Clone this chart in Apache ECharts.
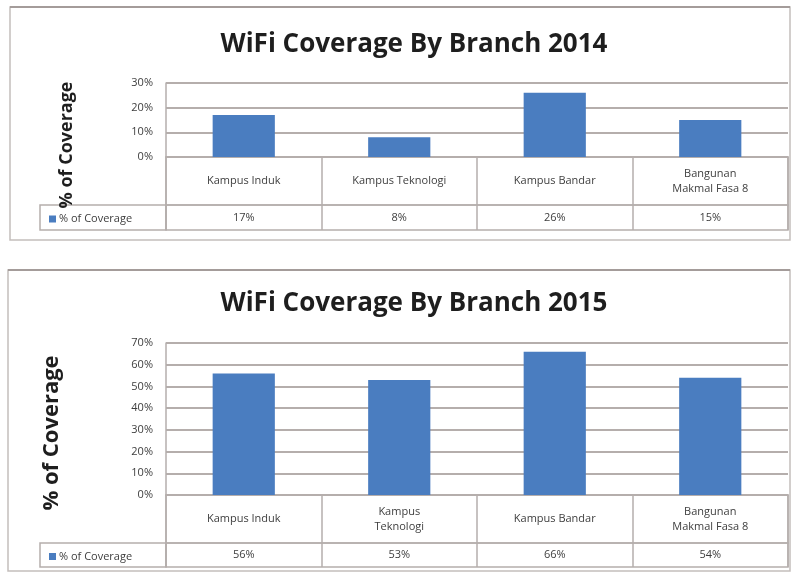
<!DOCTYPE html>
<html>
<head>
<meta charset="utf-8">
<script src="https://cdn.jsdelivr.net/npm/echarts@6/dist/echarts.min.js"></script>
<style>
  html, body { margin: 0; padding: 0; background: #fff; }
  #main { width: 794px; height: 574px; }
</style>
</head>
<body>
<div id="main"></div>
<script>
// data
var categories2014 = ['Kampus Induk', 'Kampus Teknologi', 'Kampus Bandar', 'Bangunan\nMakmal Fasa 8'];
var categories2015 = ['Kampus Induk', 'Kampus\nTeknologi', 'Kampus Bandar', 'Bangunan\nMakmal Fasa 8'];
var coverage2014 = [17, 8, 26, 15];
var coverage2015 = [56, 53, 66, 54];
var yMax2014 = 30;
var yMax2015 = 70;
var seriesName = '% of Coverage';

var BLUE = '#4a7dc0';
var LINE = '#b5aeac';
var TXT = '#3e3e3e';
var FONT = 'Open Sans';

var grids = [], xAxes = [], yAxes = [], series = [], legends = [];

// one chart = plot grid + category row + value row + legend cell
function addChart(lay, cats, vals, yMax) {
  var g = grids.length;
  var catTop = lay.top + lay.plotH;
  var rowTop = catTop + lay.catH;
  var border = { show: true, borderColor: LINE, borderWidth: 1.5, backgroundColor: 'transparent' };

  grids.push({ left: 166, right: 6, top: lay.top, height: lay.plotH });
  grids.push(Object.assign({ left: 166, right: 6, top: catTop, height: lay.catH }, border));
  grids.push(Object.assign({ left: 166, right: 6, top: rowTop, height: lay.rowH }, border));
  grids.push(Object.assign({ left: 40, width: 126, top: rowTop, height: lay.rowH }, border));

  xAxes.push({
    gridIndex: g, type: 'category', data: cats,
    axisLine: { lineStyle: { color: LINE, width: 1.5 } },
    axisTick: { show: false }, axisLabel: { show: false }
  });
  yAxes.push({
    gridIndex: g, type: 'value', min: 0, max: yMax, interval: 10,
    axisLine: { show: true, lineStyle: { color: LINE, width: 1.5 } },
    axisTick: { show: false },
    axisLabel: { formatter: '{value}%', margin: 13, fontSize: 11, fontFamily: FONT, color: TXT },
    splitLine: { lineStyle: { color: LINE, width: 1.8 } }
  });

  xAxes.push({
    gridIndex: g + 1, type: 'category', data: cats,
    axisLine: { show: false }, axisTick: { show: false },
    splitLine: { show: true, interval: 0, lineStyle: { color: LINE, width: 1.5 } },
    axisLabel: {
      inside: true, interval: 0, verticalAlign: 'middle', margin: lay.catH / 2,
      fontSize: 11, lineHeight: 15, fontFamily: FONT, color: TXT
    }
  });
  yAxes.push({ gridIndex: g + 1, show: false });

  xAxes.push({
    gridIndex: g + 2, type: 'category', data: cats,
    axisLine: { show: false }, axisTick: { show: false },
    splitLine: { show: true, interval: 0, lineStyle: { color: LINE, width: 1.5 } },
    axisLabel: {
      inside: true, interval: 0, verticalAlign: 'middle', margin: lay.rowH / 2,
      fontSize: 11, fontFamily: FONT, color: TXT,
      formatter: function (v, i) { return vals[i] + '%'; }
    }
  });
  yAxes.push({ gridIndex: g + 2, show: false });

  xAxes.push({ gridIndex: g + 3, show: false });
  yAxes.push({ gridIndex: g + 3, show: false });

  series.push({
    type: 'bar', name: seriesName, xAxisIndex: g, yAxisIndex: g,
    data: vals, barWidth: '40%', itemStyle: { color: BLUE }
  });

  legends.push({
    data: [seriesName], left: 44, top: rowTop + lay.rowH / 2 - 9,
    icon: 'rect', itemWidth: 7, itemHeight: 7, itemGap: 4,
    textStyle: { fontSize: 11, fontFamily: FONT, color: TXT, padding: [0, 0, 0, -2] },
    selectedMode: false
  });
}

addChart({ top: 83, plotH: 74, catH: 48, rowH: 25 }, categories2014, coverage2014, yMax2014);
addChart({ top: 343, plotH: 152, catH: 48, rowH: 24 }, categories2015, coverage2015, yMax2015);

var titleStyle = { fontSize: 26, fontWeight: 'bold', fontFamily: FONT, color: '#1e1e1e' };

var chart = echarts.init(document.getElementById('main'));
chart.setOption({
  animation: false,
  backgroundColor: '#fff',
  title: [
    { text: 'WiFi Coverage By Branch 2014', left: 409, textAlign: 'center', top: 27, textStyle: titleStyle },
    { text: 'WiFi Coverage By Branch 2015', left: 409, textAlign: 'center', top: 286, textStyle: titleStyle }
  ],
  legend: legends,
  grid: grids,
  xAxis: xAxes,
  yAxis: yAxes,
  series: series,
  graphic: [
    // outer chart frames
    { type: 'rect', shape: { x: 10, y: 7, width: 780, height: 233 }, style: { fill: null, stroke: '#c4bebc', lineWidth: 1.5 }, z: -1 },
    { type: 'line', shape: { x1: 10, y1: 7, x2: 790, y2: 7 }, style: { stroke: '#a49c9a', lineWidth: 2 } },
    { type: 'rect', shape: { x: 8, y: 270, width: 782, height: 301 }, style: { fill: null, stroke: '#c4bebc', lineWidth: 1.5 }, z: -1 },
    { type: 'line', shape: { x1: 8, y1: 270, x2: 790, y2: 270 }, style: { stroke: '#a49c9a', lineWidth: 2 } },
    // y axis titles
    { type: 'text', x: 67, y: 145, rotation: Math.PI / 2,
      style: { text: '% of Coverage', font: 'bold 18px "Open Sans"', fill: '#1e1e1e', textAlign: 'center', textVerticalAlign: 'middle' } },
    { type: 'text', x: 52, y: 433, rotation: Math.PI / 2,
      style: { text: '% of Coverage', font: 'bold 22px "Open Sans"', fill: '#1e1e1e', textAlign: 'center', textVerticalAlign: 'middle' } }
  ]
});
</script>
</body>
</html>
